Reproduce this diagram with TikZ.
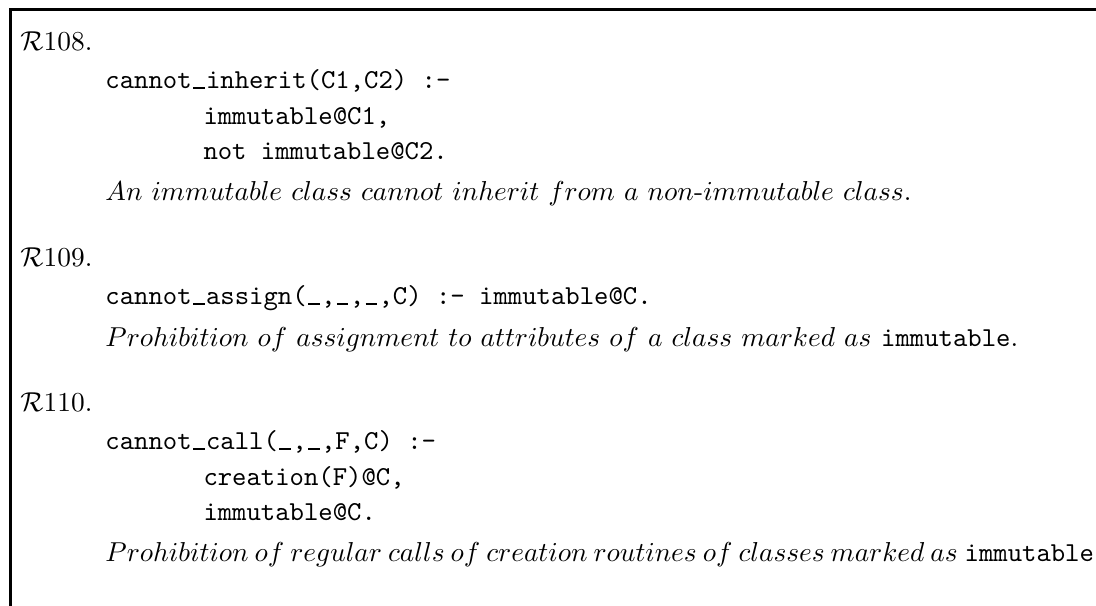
\documentclass[tikz,border=0pt]{standalone}
% low underscore on the baseline, one typewriter cell wide
\newcommand\usc{\makebox[0.525em][c]{\rule{0.42em}{0.6pt}}}
% interword space of a fully shrunk (justified) line
\newcommand\tsp{\hspace{0.222em}}
\begin{document}
\begin{tikzpicture}[x=0.4pt,y=-0.4pt,
  every node/.style={font=\fontsize{10.95}{13.6}\selectfont},
  frame/.style={line width=0.9pt},
  rulelabel/.style={anchor=base west,inner sep=0pt},
  codeline/.style={anchor=base west,inner sep=0pt,font=\fontsize{10.95}{13.6}\selectfont\ttfamily},
  descline/.style={anchor=base west,inner sep=0pt}]
\useasboundingbox (0,0) rectangle (1096,606);
\clip (0,0) rectangle (1096,606);
% open frame: left and top edges only
\coordinate (fbot) at (10.5,620);
\coordinate (fcorner) at (10.5,9.5);
\coordinate (fright) at (1110,9.5);
\draw[frame] (fbot) -- (fcorner) -- (fright);

% rule 108
\node[rulelabel] (r108) at (20,51) {$\mathcal{R}$108.};
\node[codeline] (c108a) at (105,89) {cannot\usc inherit(C1,C2) :-};
\node[codeline] (c108b) at (203,124.5) {immutable@C1,};
\node[codeline] (c108c) at (203,160) {not immutable@C2.};
\node[descline] (d108) at (105,201) {$An\ immutable\ class\ cannot\ inherit\ from\ a\ non$-$immutable\ class$.};

% rule 109
\node[rulelabel] (r109) at (20,267) {$\mathcal{R}$109.};
\node[codeline] (c109a) at (105,305) {cannot\usc assign(\usc,\usc,\usc,C) :- immutable@C.};
\node[descline] (d109) at (105,347) {$Prohibition\ of\ assignment\ to\ attributes\ of\ a\ class\ marked\ as$ \texttt{immutable}.};

% rule 110
\node[rulelabel] (r110) at (20,412) {$\mathcal{R}$110.};
\node[codeline] (c110a) at (105,450) {cannot\usc call(\usc,\usc,F,C) :-};
\node[codeline] (c110b) at (203,485.5) {creation(F)@C,};
\node[codeline] (c110c) at (203,521) {immutable@C.};
\node[descline] (d110) at (105,562) {$Prohibition\tsp of\tsp regular\tsp calls\tsp of\tsp creation\tsp routines\tsp of\tsp classes\tsp marked\tsp as$\tsp\texttt{immutable}.};
\end{tikzpicture}
\end{document}
